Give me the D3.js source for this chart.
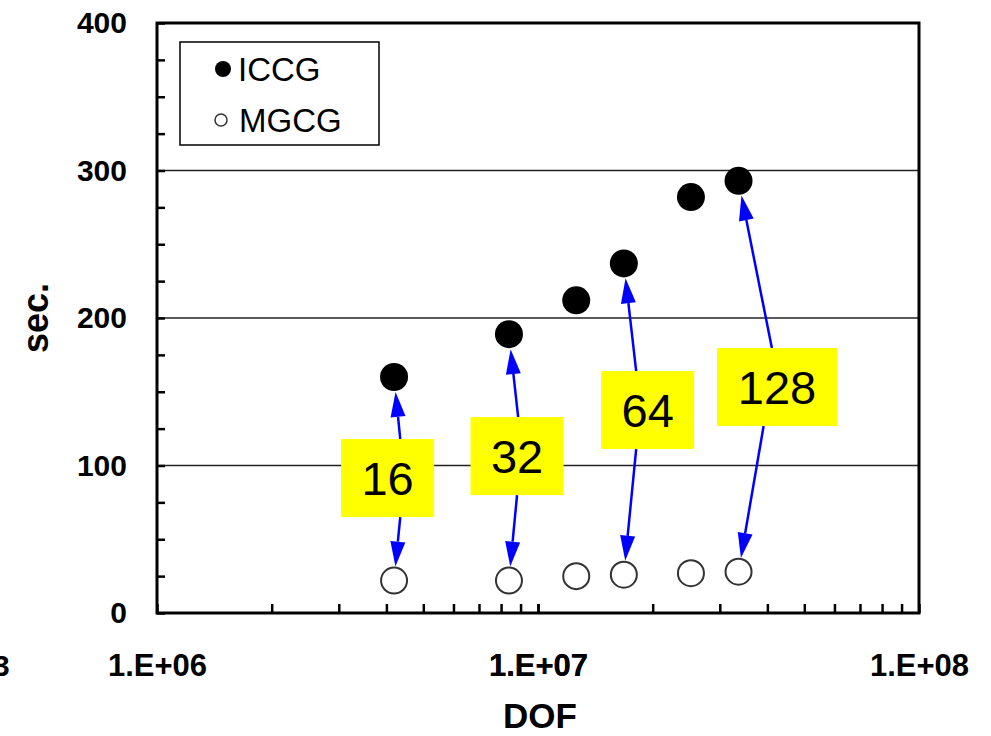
<!DOCTYPE html>
<html>
<head>
<meta charset="utf-8">
<script src="https://cdn.jsdelivr.net/npm/d3@7"></script>
<style>
  body { margin: 0; background: #fff; }
  svg { font-family: "Liberation Sans", Arial, sans-serif; }
  .axis path { display: none; }
  .axis line { stroke: #000; stroke-width: 2.5; }
  .axis text { font-weight: bold; fill: #000; }
</style>
</head>
<body>
<div id="chart"></div>
<script>
const WIDTH        = 991;
const HEIGHT       = 736;
const MARGIN       = { top: 23, right: 72, bottom: 123, left: 157 };
const INNER_WIDTH  = WIDTH - MARGIN.left - MARGIN.right;
const INNER_HEIGHT = HEIGHT - MARGIN.top - MARGIN.bottom;

// data
const dof   = [4.19e6, 8.39e6, 1.26e7, 1.68e7, 2.52e7, 3.36e7];
const iccg  = [160, 189, 212, 237, 282, 293];
const mgcg  = [22, 22, 25, 26, 27, 28];
const yTicks = [0, 100, 200, 300, 400];
const yGrid  = [100, 200, 300];
const xTicks = [1e6, 1e7, 1e8];

// yellow boxes with the arrows to the points
const boxLabels      = ['16', '32', '64', '128'];
const boxDof         = [4.03e6, 8.81e6, 1.94e7, 4.24e7];
const boxSec         = [91.5, 106.4, 137.6, 153.2];
const boxPoint       = [0, 1, 3, 5];
const arrowTopDof    = [4.35e6, 8.87e6, 1.81e7, 4.11e7];
const arrowBottomDof = [4.35e6, 8.81e6, 1.81e7, 3.91e7];

const svg = d3.select('#chart').append('svg')
  .attr('width', WIDTH)
  .attr('height', HEIGHT);

const g = svg.append('g')
  .attr('transform', 'translate(' + MARGIN.left + ',' + MARGIN.top + ')');

const x = d3.scaleLog().domain([1e6, 1e8]).range([0, INNER_WIDTH]);
const y = d3.scaleLinear().domain([0, 400]).range([INNER_HEIGHT, 0]);

// grid lines
g.selectAll('.grid')
  .data(yGrid)
  .enter().append('line')
    .attr('x1', 0)
    .attr('x2', INNER_WIDTH)
    .attr('y1', d => y(d))
    .attr('y2', d => y(d))
    .attr('stroke', '#222')
    .attr('stroke-width', 1.5);

// minor ticks on both axes, labels only on the majors
const yMinor = d3.range(0, 401, 25);
const yAxis = d3.axisLeft(y)
  .tickValues(yMinor)
  .tickSize(-8)
  .tickPadding(30)
  .tickFormat(d => yTicks.includes(d) ? d : '');
g.append('g')
  .attr('class', 'y axis')
  .call(yAxis)
  .selectAll('text')
    .style('font-size', '30px');

const xMinor = [];
[1e6, 1e7].forEach(p => { for (let k = 1; k <= 10; k++) xMinor.push(p * k); });
const xAxis = d3.axisBottom(x)
  .tickValues(xMinor)
  .tickSize(-9)
  .tickPadding(41)
  .tickFormat(d => xTicks.includes(d) ? '1.E+0' + Math.round(Math.log10(d)) : '');
g.append('g')
  .attr('class', 'x axis')
  .attr('transform', 'translate(0,' + INNER_HEIGHT + ')')
  .call(xAxis)
  .selectAll('text')
    .style('font-size', '31px');

// plot frame
g.append('rect')
  .attr('width', INNER_WIDTH)
  .attr('height', INNER_HEIGHT)
  .attr('fill', 'none')
  .attr('stroke', '#000')
  .attr('stroke-width', 3);

// points
g.selectAll('.iccg')
  .data(dof)
  .enter().append('circle')
    .attr('cx', d => x(d))
    .attr('cy', (d, i) => y(iccg[i]))
    .attr('r', 14)
    .attr('fill', '#000');

g.selectAll('.mgcg')
  .data(dof)
  .enter().append('circle')
    .attr('cx', d => x(d))
    .attr('cy', (d, i) => y(mgcg[i]))
    .attr('r', 13)
    .attr('fill', '#fff')
    .attr('stroke', '#333')
    .attr('stroke-width', 2);

// arrows
function arrow(x0, y0, x1, y1, r) {
  const dx = x1 - x0, dy = y1 - y0;
  const len = Math.sqrt(dx * dx + dy * dy);
  const ux = dx / len, uy = dy / len;
  const tx = x1 - ux * (r + 1), ty = y1 - uy * (r + 1);
  const headL = 25, headW = 7.5;
  const bx = tx - ux * headL, by = ty - uy * headL;
  g.append('line')
    .attr('x1', x0).attr('y1', y0)
    .attr('x2', bx).attr('y2', by)
    .attr('stroke', '#0000ff')
    .attr('stroke-width', 2.5);
  g.append('path')
    .attr('d', 'M' + tx + ',' + ty +
               'L' + (bx - uy * headW) + ',' + (by + ux * headW) +
               'L' + (bx + uy * headW) + ',' + (by - ux * headW) + 'Z')
    .attr('fill', '#0000ff');
}

const BOX_H = 78;
boxLabels.forEach((label, i) => {
  const cy = y(boxSec[i]);
  const p = boxPoint[i];
  arrow(x(arrowTopDof[i]), cy - BOX_H / 2, x(dof[p]), y(iccg[p]), 14);
  arrow(x(arrowBottomDof[i]), cy + BOX_H / 2, x(dof[p]), y(mgcg[p]), 13);
});

boxLabels.forEach((label, i) => {
  const bw = label.length > 2 ? 120 : 93;
  const cx = x(boxDof[i]), cy = y(boxSec[i]);
  g.append('rect')
    .attr('x', cx - bw / 2)
    .attr('y', cy - BOX_H / 2)
    .attr('width', bw)
    .attr('height', BOX_H)
    .attr('fill', '#ffff00');
  g.append('text')
    .attr('x', cx)
    .attr('y', cy)
    .attr('dy', '0.36em')
    .attr('text-anchor', 'middle')
    .style('font-size', '47px')
    .text(label);
});

// legend
const legend = g.append('g').attr('transform', 'translate(23,19)');
legend.append('rect')
  .attr('width', 199)
  .attr('height', 103)
  .attr('fill', '#fff')
  .attr('stroke', '#000')
  .attr('stroke-width', 1.5);
legend.append('circle')
  .attr('cx', 43).attr('cy', 27).attr('r', 8).attr('fill', '#000');
legend.append('text')
  .attr('x', 58).attr('y', 39)
  .style('font-size', '33px')
  .text('ICCG');
legend.append('circle')
  .attr('cx', 41).attr('cy', 78).attr('r', 6)
  .attr('fill', '#fff').attr('stroke', '#333').attr('stroke-width', 1.5);
legend.append('text')
  .attr('x', 59).attr('y', 90)
  .style('font-size', '33px')
  .text('MGCG');

// text label for the x axis
svg.append('text')
  .attr('x', 540)
  .attr('y', 728)
  .style('text-anchor', 'middle')
  .style('font-size', '35px')
  .style('font-weight', 'bold')
  .text('DOF');

// text label for the y axis
svg.append('text')
  .attr('transform', 'rotate(-90)')
  .attr('x', -318)
  .attr('y', 48)
  .style('text-anchor', 'middle')
  .style('font-size', '36px')
  .style('font-weight', 'bold')
  .text('sec.');

// cut-off label at the left edge of the picture (cut in the reference too)
svg.append('text')
  .attr('x', -7)
  .attr('y', 676)
  .style('font-size', '30px')
  .style('font-weight', 'bold')
  .text('3');
</script>
</body>
</html>
